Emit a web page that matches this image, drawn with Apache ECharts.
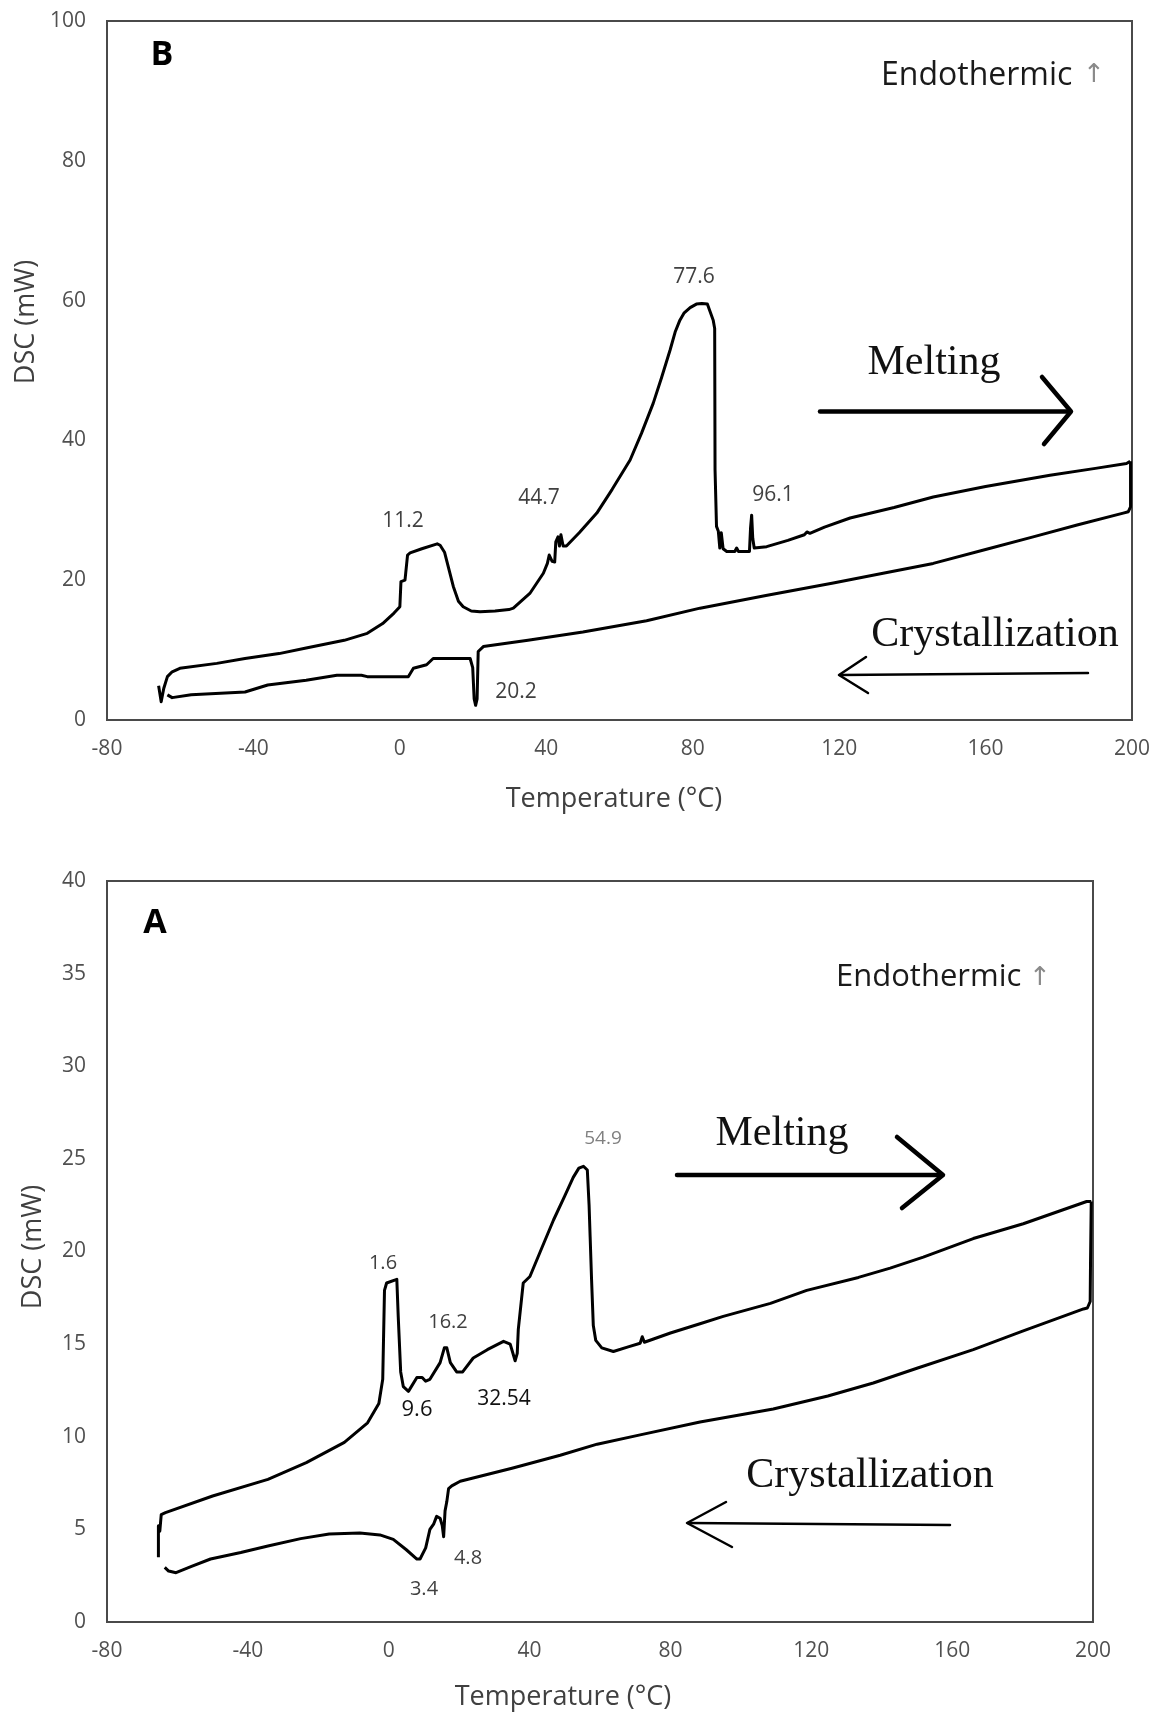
<!DOCTYPE html>
<html><head><meta charset="utf-8">
<script src="https://cdn.jsdelivr.net/npm/echarts@6/dist/echarts.min.js"></script>
<style>html,body{margin:0;padding:0;background:#fff}#c{width:1156px;height:1712px}</style>
</head><body><div id="c"></div>
<script>
// ---- Data: [temperature °C, DSC mW] ----
const heatingB = [
[-65.9,4.9],[-65.2,2.6],[-64.8,2.4],[-64.5,4.5],[-63.5,6.2],[-62.2,6.9],[-60.1,7.4],[-50,8.1],[-42.3,8.8],[-33,9.5],[-25.6,10.3],[-15.2,11.4],[-8.9,12.4],[-4.7,13.8],[-1.6,15.3],[0,16.2],[0.3,19.8],[1.4,20.0],[1.6,21.0],[2.1,23.6],[2.8,23.9],[6,24.5],[10.2,25.2],[11.0,25.0],[12.2,24.0],[14.6,19.1],[16.0,17.0],[17.3,16.2],[19.5,15.6],[21.9,15.5],[26,15.6],[29.8,15.8],[31.0,16.0],[35.5,18.1],[39.2,21.0],[40.3,22.4],[40.8,23.6],[41.6,22.7],[42.3,22.6],[42.6,25.5],[43.2,26.2],[43.6,24.9],[44.0,26.5],[44.6,24.9],[45.5,24.9],[49,26.8],[53.8,29.6],[58,33],[62.9,37.2],[66,41],[69.2,45.3],[71.5,49],[73.8,52.9],[75.2,55.5],[76.5,57.2],[77.6,58.2],[79.3,59.0],[81,59.5],[82.5,59.6],[84,59.5],[85.6,57.2],[86.0,56.0],[86.1,35.8],[86.5,27.7],[87.0,27.0],[87.4,24.6],[87.8,26.8],[88.3,24.5],[89.3,24.1],[91.5,24.1],[92.0,24.6],[92.5,24.1],[95.5,24.1],[95.8,27.5],[96.1,29.3],[96.4,26.0],[96.8,24.6],[100.2,24.8],[106,25.7],[110.5,26.5],[111.2,26.9],[112,26.7],[116,27.6],[123.0,28.9],[135,30.4],[145.7,31.9],[160,33.4],[177.6,35.0],[190,36.0],[198.5,36.7],[199.5,37.0]
];
const coolingB = [
[199.6,37.0],[199.6,30.5],[199.0,29.8],[197.6,29.6],[185,27.9],[173.0,26.2],[160,24.4],[145.7,22.4],[132,21.0],[118.4,19.6],[100,17.8],[82.0,16.0],[67.4,14.2],[50,12.6],[35,11.4],[22.8,10.5],[21.4,9.8],[21.1,3.0],[20.7,2.1],[20.3,3.0],[19.9,7.5],[19.2,8.8],[9.1,8.8],[7.3,7.9],[3.7,7.4],[2.3,6.2],[-8.9,6.2],[-10.5,6.4],[-17.2,6.4],[-25.6,5.7],[-36.1,5.0],[-42.3,4.0],[-57,3.6],[-62.2,3.2],[-63.5,3.6]
];
const heatingA = [
[-65.4,3.5],[-65.4,5.2],[-65.0,4.9],[-64.6,5.8],[-63.4,5.9],[-50,6.8],[-34.3,7.7],[-23.4,8.6],[-12.6,9.7],[-6.0,10.75],[-2.8,11.8],[-1.7,13.1],[-1.2,17.9],[-0.6,18.3],[2.3,18.5],[2.7,16.5],[3.4,13.5],[4.15,12.7],[5.6,12.45],[8.0,13.2],[9.5,13.2],[10.5,13.0],[11.7,13.1],[14.6,14.0],[15.8,14.8],[16.5,14.8],[17.5,14.0],[19.3,13.5],[21,13.5],[24.0,14.25],[28,14.7],[32.6,15.15],[34.5,15.0],[35.9,14.1],[36.5,14.5],[36.8,15.8],[38.2,18.3],[40.1,18.65],[43.5,20.2],[46.8,21.7],[50,23.0],[52.4,24.0],[54,24.5],[55.3,24.6],[56.4,24.4],[56.9,22.5],[57.2,20.8],[57.6,18.5],[58.1,16.0],[58.8,15.2],[60.5,14.8],[63.8,14.6],[68,14.85],[71.4,15.05],[72.0,15.4],[72.6,15.1],[80,15.6],[88.4,16.1],[95.0,16.5],[108.4,17.2],[118.7,17.9],[133.4,18.6],[142.4,19.1],[151.8,19.7],[166.0,20.7],[180.2,21.5],[198.2,22.7],[199.5,22.7]
];
const coolingA = [
[199.5,22.7],[199.3,19.5],[199.2,17.3],[198.4,16.95],[197.3,16.9],[194.4,16.7],[180,15.7],[166,14.7],[150,13.7],[137.6,12.9],[124.7,12.2],[109.2,11.5],[88.4,10.8],[71.4,10.1],[59.2,9.6],[48.7,9.0],[35,8.3],[20.3,7.6],[17.9,7.35],[17.0,7.2],[16.5,6.5],[16.0,6.0],[15.6,4.6],[15.2,5.2],[14.6,5.6],[13.6,5.7],[12.8,5.3],[11.7,5.0],[10.5,4.0],[8.9,3.4],[8.0,3.4],[5,3.9],[1.3,4.46],[-2.5,4.7],[-8.2,4.8],[-16.9,4.75],[-25,4.5],[-34.3,4.1],[-42,3.75],[-50.6,3.4],[-56,3.0],[-60.4,2.66],[-62.5,2.75],[-63.6,2.95]
];
const xRange = [-80, 200, 40];
const yRangeB = [0, 100, 20];
const yRangeA = [0, 40, 5];
const peakLabelsB = ['11.2','44.7','77.6','96.1','20.2'];
const peakLabelsA = ['1.6','16.2','9.6','32.54','54.9','3.4','4.8'];

// ---- Chart ----
const chart = echarts.init(document.getElementById('c'), null, {renderer:'canvas'});
const SANS = '"Open Sans", "DejaVu Sans", sans-serif';
const SERIF = '"Liberation Serif", "DejaVu Serif", serif';
const tickLabel = {color:'#505050', fontSize:21, fontFamily:SANS};
function xAxis(gi){return {gridIndex:gi,type:'value',min:xRange[0],max:xRange[1],interval:xRange[2],
  axisLine:{show:false},axisTick:{show:false},splitLine:{show:false},axisLabel:Object.assign({margin:19},tickLabel)};}
function yAxis(gi,r){return {gridIndex:gi,type:'value',min:r[0],max:r[1],interval:r[2],
  axisLine:{show:false},axisTick:{show:false},splitLine:{show:false},axisLabel:Object.assign({margin:21},tickLabel)};}
function line(data,gi){return {type:'line',xAxisIndex:gi,yAxisIndex:gi,data:data,showSymbol:false,symbol:'none',
  smooth:false,silent:true,lineStyle:{color:'#000',width:3,join:'round'}};}

function txt(text,x,y,font,fill,align){return {type:'text',silent:true,
  style:{text:text,x:x,y:y,font:font,fill:fill,align:align||'center',verticalAlign:'middle',textAlign:align||'center',textVerticalAlign:'middle'}};}
function poly(points,w){return {type:'polyline',silent:true,shape:{points:points},style:{stroke:'#000',lineWidth:w,fill:null,lineCap:'round',lineJoin:'round'}};}
function vtxt(text,x,y){return {type:'text',silent:true,x:x,y:y,rotation:Math.PI/2,
  style:{text:text,x:0,y:0,font:'27px '+SANS,fill:'#404040',align:'center',verticalAlign:'middle',textAlign:'center',textVerticalAlign:'middle'}};}

const numFontB = '21px '+SANS, numFontA = '20px '+SANS;
const graphic = [
  // Panel B
  txt('B',162,55,'bold 34px '+SANS,'#000'),
  txt('Endothermic',881,76,'32px '+SANS,'#1a1a1a','left'),
  txt('↑',1094,75,'26px '+SANS,'#8a8a8a'),
  txt(peakLabelsB[0],403,521,numFontB,'#404040'),
  txt(peakLabelsB[1],539,498,numFontB,'#404040'),
  txt(peakLabelsB[2],694,277,numFontB,'#404040'),
  txt(peakLabelsB[3],773,495,numFontB,'#404040'),
  txt(peakLabelsB[4],516,692,numFontB,'#404040'),
  txt('Melting',934,363,'42px '+SERIF,'#111'),
  txt('Crystallization',995,635,'42px '+SERIF,'#111'),
  poly([[820,411.5],[1068,411.5]],4.5),
  poly([[1042,377],[1071,411.5],[1044,444]],4.5),
  poly([[1088,673],[840,675]],2.5),
  poly([[866,657],[839,675],[868,693]],2.5),
  txt('Temperature (°C)',614,799,'27px '+SANS,'#404040'),
  vtxt('DSC (mW)',26,322),
  // Panel A
  txt('A',155,923,'bold 34px '+SANS,'#000'),
  txt('Endothermic',836,977,'31px '+SANS,'#1a1a1a','left'),
  txt('↑',1040,978,'26px '+SANS,'#8a8a8a'),
  txt(peakLabelsA[0],383,1263,numFontA,'#404040'),
  txt(peakLabelsA[1],448,1322,numFontA,'#404040'),
  txt(peakLabelsA[2],417,1410,'22px '+SANS,'#111'),
  txt(peakLabelsA[3],504,1399,'21px '+SANS,'#111'),
  txt(peakLabelsA[4],603,1139,'19px '+SANS,'#808080'),
  txt(peakLabelsA[5],424,1589,numFontA,'#404040'),
  txt(peakLabelsA[6],468,1558,numFontA,'#404040'),
  txt('Melting',782,1134,'42px '+SERIF,'#111'),
  txt('Crystallization',870,1476,'42px '+SERIF,'#111'),
  poly([[677,1175],[940,1175]],4.5),
  poly([[897,1137],[943,1175],[902,1208]],4.5),
  poly([[950,1525],[688,1523]],2.5),
  poly([[726,1502],[687,1523],[732,1547]],2.5),
  txt('Temperature (°C)',563,1697,'27px '+SANS,'#404040'),
  vtxt('DSC (mW)',33,1247)
];

chart.setOption({
  animation:false,
  backgroundColor:'#fff',
  grid:[
    {left:107,top:21,width:1025,height:699,show:true,borderColor:'#4a4a4a',borderWidth:2,backgroundColor:'transparent'},
    {left:107,top:881,width:986,height:741,show:true,borderColor:'#4a4a4a',borderWidth:2,backgroundColor:'transparent'}
  ],
  xAxis:[xAxis(0),xAxis(1)],
  yAxis:[yAxis(0,yRangeB),yAxis(1,yRangeA)],
  series:[line(heatingB,0),line(coolingB,0),line(heatingA,1),line(coolingA,1)],
  graphic:graphic
});
</script></body></html>
